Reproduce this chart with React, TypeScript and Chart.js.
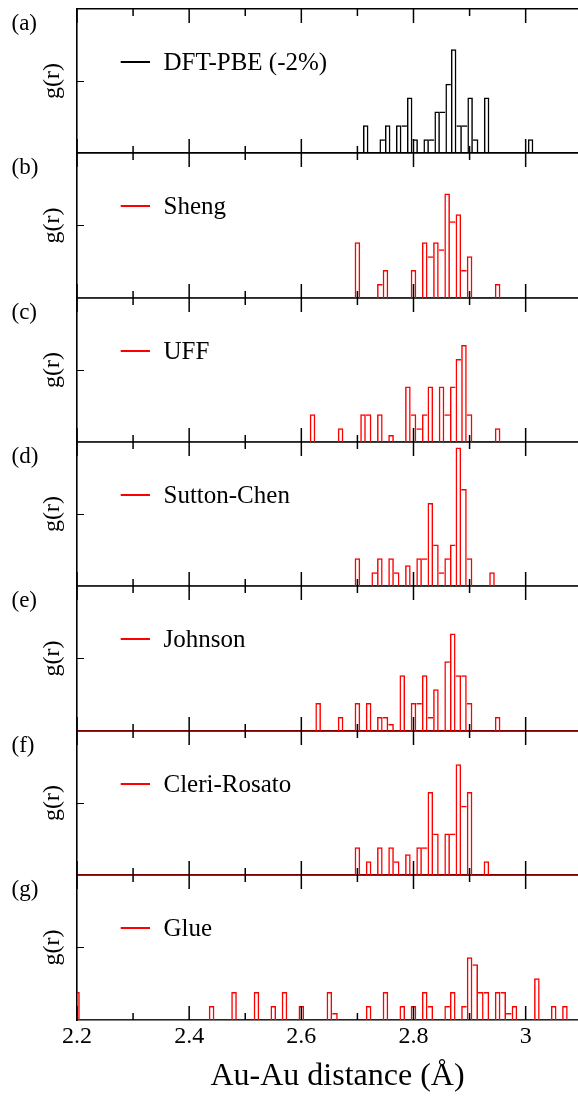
import React, { useEffect, useRef } from 'react';
import { Chart, registerables } from 'chart.js';

Chart.register(...registerables);

// ---------------- data ----------------
const X_MIN = 2.2;
const X_MAX = 3.129;
const X_MINOR_TICKS = [2.3, 2.5, 2.7, 2.9, 3.1];
const X_MAJOR_TICKS = [2.2, 2.4, 2.6, 2.8, 3.0];
const X_TICK_LABELS = ['2.2', '2.4', '2.6', '2.8', '3'];
const X_TITLE = 'Au-Au distance (Å)';
const Y_TITLE = 'g(r)';
const Y_MAX = 10.4;
const Y_TICKS = [5.2];

const PANEL_LABELS = ['(a)', '(b)', '(c)', '(d)', '(e)', '(f)', '(g)'];
const SERIES_NAMES = ['DFT-PBE (-2%)', 'Sheng', 'UFF', 'Sutton-Chen', 'Johnson', 'Cleri-Rosato', 'Glue'];
const SERIES_COLORS = ['#000000', '#ff0000', '#ff0000', '#ff0000', '#ff0000', '#ff0000', '#ff0000'];

const DFT_R = [2.7148, 2.7442, 2.754, 2.7736, 2.7834, 2.7932, 2.803, 2.8226, 2.8324, 2.8422, 2.852, 2.8618, 2.8716, 2.8814, 2.8912, 2.901, 2.9108, 2.9304, 3.0088];
const DFT_G = [2, 1, 2, 2, 2, 4, 1, 1, 1, 3, 3, 5, 7.5, 2, 2, 4, 1, 4, 1];

const SHENG_R = [2.70, 2.74, 2.75, 2.80, 2.82, 2.83, 2.84, 2.85, 2.86, 2.87, 2.88, 2.89, 2.90, 2.95];
const SHENG_G = [4, 1, 2, 2, 4, 3, 4, 3.5, 7.5, 5.5, 6, 2, 3, 1];

const UFF_R = [2.62, 2.67, 2.71, 2.72, 2.74, 2.76, 2.79, 2.80, 2.81, 2.82, 2.83, 2.85, 2.86, 2.87, 2.88, 2.89, 2.90, 2.95];
const UFF_G = [2, 1, 2, 2, 2, 0.5, 4, 2, 1, 2, 4, 4, 2, 4, 6, 7, 2, 1];

const SC_R = [2.70, 2.73, 2.74, 2.76, 2.77, 2.79, 2.81, 2.82, 2.83, 2.84, 2.85, 2.86, 2.87, 2.88, 2.89, 2.90, 2.94];
const SC_G = [2, 1, 2, 2, 1, 1.5, 2, 2, 6, 3, 1, 2, 3, 10, 7, 2, 1];

const JOHNSON_R = [2.63, 2.67, 2.70, 2.72, 2.74, 2.75, 2.76, 2.78, 2.80, 2.81, 2.82, 2.83, 2.84, 2.86, 2.87, 2.88, 2.89, 2.90, 2.95];
const JOHNSON_G = [2, 1, 2, 2, 1, 1, 0.5, 4, 2, 2, 4, 1, 3, 5, 7, 4, 4, 2, 1];

const CR_R = [2.70, 2.72, 2.74, 2.76, 2.77, 2.79, 2.81, 2.82, 2.83, 2.84, 2.86, 2.87, 2.88, 2.89, 2.90, 2.93];
const CR_G = [2, 1, 2, 2, 1, 1.5, 2, 2, 6, 3, 3, 3, 8, 5, 6, 1];

const GLUE_R = [2.20, 2.44, 2.48, 2.52, 2.55, 2.57, 2.60, 2.65, 2.66, 2.72, 2.75, 2.78, 2.80, 2.82, 2.83, 2.86, 2.87, 2.89, 2.90, 2.91, 2.92, 2.93, 2.95, 2.96, 2.97, 2.98, 3.02, 3.05, 3.07];
const GLUE_G = [2, 1, 2, 2, 1, 2, 1, 2, 0.5, 1, 2, 1, 1, 2, 1, 1, 2, 1, 4.5, 4, 2, 2, 2, 2, 0.5, 1, 3, 1, 1];

const SERIES_R = [DFT_R, SHENG_R, UFF_R, SC_R, JOHNSON_R, CR_R, GLUE_R];
const SERIES_G = [DFT_G, SHENG_G, UFF_G, SC_G, JOHNSON_G, CR_G, GLUE_G];

// ---------------- layout / style ----------------
const FONT = '"Liberation Serif", "Times New Roman", Times, serif';
const PANEL_TOP = 9;
const PANEL_STEP = 144.36;
const PAD = 9;
const PAGE_H = 1096;
const VIEW_W = 578;
const CANVAS_W = 598;
const AXIS_W = 77;
const AXIS_LINE = 1.6;
const BAR_LINE = 1.5;
const MAJOR_TICK = 14;
const MINOR_TICK = 7;
const Y_TICK = 7;
const TICK_W = 1.5;

const tickLabel = (v: number) => {
  const i = X_MAJOR_TICKS.findIndex((m) => Math.abs(m - v) < 1e-6);
  return i >= 0 ? X_TICK_LABELS[i] : '';
};

function Panel({ index }: { index: number }) {
  const ref = useRef<HTMLCanvasElement>(null);
  const n = PANEL_LABELS.length;
  const isLast = index === n - 1;
  const top = Math.round(PANEL_TOP + PANEL_STEP * index);
  const bottom = Math.round(PANEL_TOP + PANEL_STEP * (index + 1));
  const canvasTop = top - PAD;
  const canvasH = isLast ? PAGE_H - canvasTop : bottom - top + 2 * PAD;
  const bottomAxisH = isLast ? canvasH - PAD - (bottom - top) : 0;

  useEffect(() => {
    const canvas = ref.current;
    if (!canvas) return;
    const r = SERIES_R[index];
    const g = SERIES_G[index];
    const color = SERIES_COLORS[index];

    let binW = Infinity;
    for (let k = 1; k < r.length; k++) binW = Math.min(binW, r[k] - r[k - 1]);
    const neighbour = (k: number, dir: number) => {
      const j = k + dir;
      if (j < 0 || j >= r.length) return 0;
      return Math.abs(r[j] - r[k]) < 1.5 * binW ? g[j] : 0;
    };
    const barBorder = (c: any) => {
      const k = c.dataIndex;
      const h = g[k];
      return {
        top: BAR_LINE,
        bottom: 0,
        left: h > neighbour(k, -1) ? BAR_LINE : 0,
        right: h >= neighbour(k, 1) ? BAR_LINE : 0,
      };
    };

    const border = { display: true, color: '#000', width: AXIS_LINE };
    const noGrid = { display: false, drawOnChartArea: false };
    const flat = (h: number) => (s: any) => {
      s.height = h;
      s.paddingLeft = 0;
      s.paddingRight = 0;
    };

    // inward x ticks on both edges of the panel, placed through the x scale
    const xTickMarks = {
      id: 'xTickMarks',
      afterDraw(chart: any) {
        const ctx = chart.ctx;
        const area = chart.chartArea;
        const sx = chart.scales.x;
        ctx.save();
        ctx.setLineDash([]);
        ctx.strokeStyle = '#000';
        ctx.lineWidth = TICK_W;
        ctx.lineCap = 'butt';
        const mark = (vals: number[], len: number) => {
          for (const v of vals) {
            const px = sx.getPixelForValue(v);
            if (!(px >= area.left - 1 && px <= area.right)) continue;
            ctx.beginPath();
            ctx.moveTo(px, area.top);
            ctx.lineTo(px, area.top + len);
            ctx.stroke();
            ctx.beginPath();
            ctx.moveTo(px, area.bottom);
            ctx.lineTo(px, area.bottom - len);
            ctx.stroke();
          }
        };
        mark(X_MAJOR_TICKS, MAJOR_TICK);
        mark(X_MINOR_TICKS, MINOR_TICK);
        ctx.restore();
      },
    };

    const decor = {
      id: 'panelDecor',
      afterDatasetsDraw(chart: any) {
        const { ctx, chartArea } = chart;
        ctx.save();
        ctx.fillStyle = '#000';
        ctx.textAlign = 'left';
        ctx.font = `23px ${FONT}`;
        ctx.textBaseline = 'middle';
        ctx.fillText(PANEL_LABELS[index], 11.5, chartArea.top + 15);
        const ly = chartArea.top + 53;
        ctx.strokeStyle = color;
        ctx.lineWidth = 2;
        ctx.beginPath();
        ctx.moveTo(chartArea.left + 43.7, ly);
        ctx.lineTo(chartArea.left + 73, ly);
        ctx.stroke();
        ctx.font = `25px ${FONT}`;
        ctx.textBaseline = 'alphabetic';
        ctx.fillText(SERIES_NAMES[index], chartArea.left + 86.5, ly + 8.2);
        ctx.restore();
      },
    };

    const chart = new Chart(canvas, {
      type: 'bar',
      data: {
        datasets: [
          {
            type: 'bar',
            label: SERIES_NAMES[index],
            data: r.map((x, k) => ({ x, y: g[k] })),
            backgroundColor: 'rgba(0,0,0,0)',
            borderColor: color,
            borderWidth: barBorder,
            borderSkipped: false,
            inflateAmount: 0,
            barPercentage: 1,
            categoryPercentage: 1,
            clip: 0,
            order: 0,
          } as any,
          {
            type: 'line',
            label: 'baseline',
            data: [
              { x: X_MIN, y: 0 },
              { x: X_MAX, y: 0 },
            ],
            borderColor: color,
            borderWidth: 1.1,
            pointRadius: 0,
            fill: false,
            order: 1,
          } as any,
        ],
      },
      options: {
        animation: false,
        responsive: false,
        events: [],
        layout: { padding: { top: PAD, bottom: isLast ? 0 : PAD, left: 0, right: 0 } },
        plugins: {
          legend: { display: false },
          tooltip: { enabled: false },
        },
        scales: {
          x: {
            type: 'linear',
            position: 'bottom',
            min: X_MIN,
            max: X_MAX,
            offset: false,
            afterBuildTicks: (s: any) => {
              s.ticks = X_MAJOR_TICKS.map((v) => ({ value: v }));
            },
            afterFit: flat(bottomAxisH),
            grid: { ...noGrid, drawTicks: false, tickLength: 0 },
            border,
            ticks: {
              display: isLast,
              autoSkip: false,
              maxRotation: 0,
              minRotation: 0,
              padding: 2.5,
              color: '#000',
              font: { family: FONT, size: 24 },
              callback: (v: any) => tickLabel(Number(v)),
            },
            title: {
              display: isLast,
              text: X_TITLE,
              color: '#000',
              font: { family: FONT, size: 32 },
              padding: 0,
            },
          },
          xTop: {
            type: 'linear',
            position: 'top',
            min: X_MIN,
            max: X_MAX,
            offset: false,
            afterFit: flat(0),
            grid: noGrid,
            border,
            ticks: { display: false },
          },
          y: {
            type: 'linear',
            position: 'left',
            min: 0,
            max: Y_MAX,
            afterBuildTicks: (s: any) => {
              s.ticks = Y_TICKS.map((v) => ({ value: v }));
            },
            afterFit: (s: any) => {
              s.width = AXIS_W;
            },
            grid: {
              display: true,
              drawOnChartArea: false,
              drawTicks: true,
              color: '#000',
              tickColor: '#000',
              tickWidth: 1,
              lineWidth: 1,
              tickLength: -Y_TICK,
            },
            border,
            ticks: { display: false },
            title: {
              display: true,
              text: Y_TITLE,
              color: '#000',
              font: { family: FONT, size: 24 },
              padding: { top: 38.8, bottom: 0 },
            },
          },
        },
      } as any,
      plugins: [decor, xTickMarks],
    });
    return () => chart.destroy();
  }, [index]);

  return (
    <canvas
      ref={ref}
      width={CANVAS_W}
      height={canvasH}
      style={{
        position: 'absolute',
        left: 0,
        top: canvasTop,
        width: CANVAS_W,
        height: canvasH,
        zIndex: 20 - index,
        display: 'block',
      }}
    />
  );
}

export default function App() {
  return (
    <div
      style={{
        position: 'absolute',
        left: 0,
        top: 0,
        width: VIEW_W,
        height: PAGE_H,
        overflow: 'hidden',
        background: '#fff',
      }}
    >
      {PANEL_LABELS.map((_, i) => (
        <Panel key={i} index={i} />
      ))}
    </div>
  );
}
